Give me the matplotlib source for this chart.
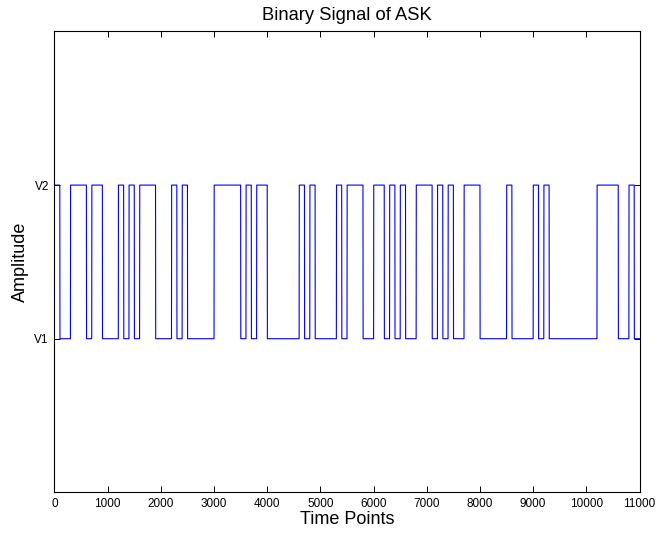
import numpy as np
import matplotlib
matplotlib.use("Agg")
import matplotlib.pyplot as plt

plt.rcParams['font.family'] = ['Liberation Sans', 'DejaVu Sans']

# Bit sequence (each bit lasts 100 time points)
bits = [1, 0, 0, 1, 1, 1, 0, 1, 1, 0,
        0, 0, 1, 0, 1, 0, 1, 1, 1, 0,
        0, 0, 1, 0, 1, 0, 0, 0, 0, 0,
        1, 1, 1, 1, 1, 0, 1, 0, 1, 1,
        0, 0, 0, 0, 0, 0, 1, 0, 1, 0,
        0, 0, 0, 1, 0, 1, 1, 1, 0, 0,
        1, 1, 0, 1, 0, 1, 0, 0, 1, 1,
        1, 0, 1, 0, 1, 0, 0, 1, 1, 1,
        0, 0, 0, 0, 0, 1, 0, 0, 0, 0,
        1, 0, 1, 0, 0, 0, 0, 0, 0, 0,
        0, 0, 1, 1, 1, 1, 0, 0, 1, 0]
samples_per_bit = 100
levels = [1, 2]            # V1, V2
level_labels = ['V1', 'V2']
x_ticks = list(range(0, 11001, 1000))

signal = np.repeat([levels[b] for b in bits], samples_per_bit)
t = np.arange(1, len(signal) + 1)

fig = plt.figure(figsize=(6.58, 5.39), dpi=100)
ax = fig.add_axes([0.0828, 0.0866, 0.8891, 0.8550])
ax.plot(t, signal, color=(0, 0, 1), linewidth=0.8)

ax.set_xlim(0, 11000)
ax.set_ylim(0, 3)
ax.set_xticks(x_ticks)
ax.set_xticklabels([str(v) for v in x_ticks])
ax.set_yticks(levels)
ax.set_yticklabels(level_labels)
ax.tick_params(direction='in', length=4, width=0.7, top=True, right=True,
               labelsize=8.5, pad=4)
for s in ax.spines.values():
    s.set_linewidth(0.8)

ax.set_title('Binary Signal of ASK', fontsize=13.2, pad=8.5)
ax.set_xlabel('Time Points', fontsize=13, labelpad=1)
ax.set_ylabel('Amplitude', fontsize=13, labelpad=4)

fig.savefig('out.png', dpi=100)
